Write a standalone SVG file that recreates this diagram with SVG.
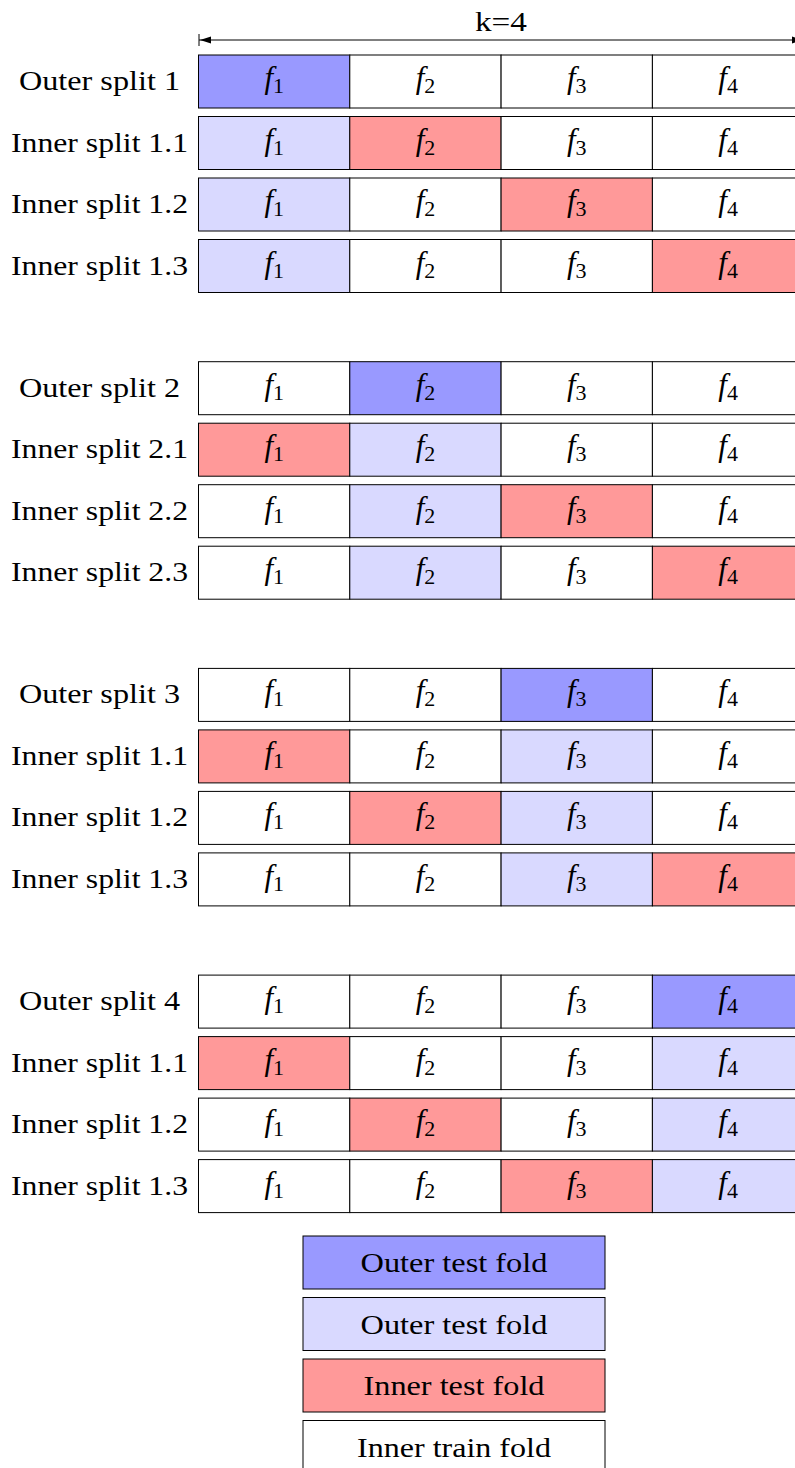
<svg xmlns="http://www.w3.org/2000/svg" width="795" height="1468" viewBox="0 0 795 1468" font-family="'Liberation Serif', 'DejaVu Serif', serif">
  <defs>
    <style>
      text { font-family: "Liberation Serif", "DejaVu Serif", serif; fill: #000; }
      .lbl { font-size: 28px; text-anchor: middle; }
      .f { font-size: 31px; text-anchor: middle; }
      .it { font-style: italic; }
      .sub { font-size: 22px; font-style: normal; }
      .cell { stroke: #000; stroke-width: 1; }
      .w { fill: #ffffff; }
      .ot { fill: #9999ff; }
      .lb { fill: #d9d9ff; }
      .it-red { fill: #ff9999; }
    </style>
    <!-- arrowhead with a stop bar, used at both ends of the k=4 span -->
    <marker id="barArrow" markerUnits="userSpaceOnUse" viewBox="0 -7 13 14" refX="12" refY="0" markerWidth="13" markerHeight="14" orient="auto-start-reverse">
      <path d="M0,-3.5 L11,0 L0,3.5 Z" fill="#000"/>
      <line x1="12" y1="-6" x2="12" y2="6" stroke="#000" stroke-width="1"/>
    </marker>
  </defs>

  <rect x="0" y="0" width="795" height="1468" fill="#ffffff"/>

  <!-- span arrow -->
  <g id="connectors">
    <line x1="199" y1="40" x2="804" y2="40" stroke="#000" stroke-width="1" marker-start="url(#barArrow)" marker-end="url(#barArrow)"/>
  </g>
  <g id="k-label">
    <text class="lbl" x="501" y="31" textLength="52" lengthAdjust="spacingAndGlyphs">k=4</text>
  </g>

  <!-- ===== Split group 1 ===== -->
  <g id="outer-split-1" transform="translate(0,55)">
    <text class="lbl" x="99.5" y="35" textLength="161" lengthAdjust="spacingAndGlyphs">Outer split 1</text>
    <rect class="cell ot" x="198.5" y="0" width="151.3" height="53"/>
    <rect class="cell w" x="349.8" y="0" width="151.3" height="53"/>
    <rect class="cell w" x="501.1" y="0" width="151.3" height="53"/>
    <rect class="cell w" x="652.4" y="0" width="151.3" height="53"/>
    <text class="f" x="274.2" y="33"><tspan class="it">f</tspan><tspan class="sub" dy="5">1</tspan></text>
    <text class="f" x="425.5" y="33"><tspan class="it">f</tspan><tspan class="sub" dy="5">2</tspan></text>
    <text class="f" x="576.8" y="33"><tspan class="it">f</tspan><tspan class="sub" dy="5">3</tspan></text>
    <text class="f" x="728.1" y="33"><tspan class="it">f</tspan><tspan class="sub" dy="5">4</tspan></text>
  </g>
  <g id="inner-split-1-1" transform="translate(0,116.5)">
    <text class="lbl" x="99.5" y="35" textLength="177" lengthAdjust="spacingAndGlyphs">Inner split 1.1</text>
    <rect class="cell lb" x="198.5" y="0" width="151.3" height="53"/>
    <rect class="cell it-red" x="349.8" y="0" width="151.3" height="53"/>
    <rect class="cell w" x="501.1" y="0" width="151.3" height="53"/>
    <rect class="cell w" x="652.4" y="0" width="151.3" height="53"/>
    <text class="f" x="274.2" y="33"><tspan class="it">f</tspan><tspan class="sub" dy="5">1</tspan></text>
    <text class="f" x="425.5" y="33"><tspan class="it">f</tspan><tspan class="sub" dy="5">2</tspan></text>
    <text class="f" x="576.8" y="33"><tspan class="it">f</tspan><tspan class="sub" dy="5">3</tspan></text>
    <text class="f" x="728.1" y="33"><tspan class="it">f</tspan><tspan class="sub" dy="5">4</tspan></text>
  </g>
  <g id="inner-split-1-2" transform="translate(0,178)">
    <text class="lbl" x="99.5" y="35" textLength="177" lengthAdjust="spacingAndGlyphs">Inner split 1.2</text>
    <rect class="cell lb" x="198.5" y="0" width="151.3" height="53"/>
    <rect class="cell w" x="349.8" y="0" width="151.3" height="53"/>
    <rect class="cell it-red" x="501.1" y="0" width="151.3" height="53"/>
    <rect class="cell w" x="652.4" y="0" width="151.3" height="53"/>
    <text class="f" x="274.2" y="33"><tspan class="it">f</tspan><tspan class="sub" dy="5">1</tspan></text>
    <text class="f" x="425.5" y="33"><tspan class="it">f</tspan><tspan class="sub" dy="5">2</tspan></text>
    <text class="f" x="576.8" y="33"><tspan class="it">f</tspan><tspan class="sub" dy="5">3</tspan></text>
    <text class="f" x="728.1" y="33"><tspan class="it">f</tspan><tspan class="sub" dy="5">4</tspan></text>
  </g>
  <g id="inner-split-1-3" transform="translate(0,239.5)">
    <text class="lbl" x="99.5" y="35" textLength="177" lengthAdjust="spacingAndGlyphs">Inner split 1.3</text>
    <rect class="cell lb" x="198.5" y="0" width="151.3" height="53"/>
    <rect class="cell w" x="349.8" y="0" width="151.3" height="53"/>
    <rect class="cell w" x="501.1" y="0" width="151.3" height="53"/>
    <rect class="cell it-red" x="652.4" y="0" width="151.3" height="53"/>
    <text class="f" x="274.2" y="33"><tspan class="it">f</tspan><tspan class="sub" dy="5">1</tspan></text>
    <text class="f" x="425.5" y="33"><tspan class="it">f</tspan><tspan class="sub" dy="5">2</tspan></text>
    <text class="f" x="576.8" y="33"><tspan class="it">f</tspan><tspan class="sub" dy="5">3</tspan></text>
    <text class="f" x="728.1" y="33"><tspan class="it">f</tspan><tspan class="sub" dy="5">4</tspan></text>
  </g>

  <!-- ===== Split group 2 ===== -->
  <g id="outer-split-2" transform="translate(0,361.7)">
    <text class="lbl" x="99.5" y="35" textLength="161" lengthAdjust="spacingAndGlyphs">Outer split 2</text>
    <rect class="cell w" x="198.5" y="0" width="151.3" height="53"/>
    <rect class="cell ot" x="349.8" y="0" width="151.3" height="53"/>
    <rect class="cell w" x="501.1" y="0" width="151.3" height="53"/>
    <rect class="cell w" x="652.4" y="0" width="151.3" height="53"/>
    <text class="f" x="274.2" y="33"><tspan class="it">f</tspan><tspan class="sub" dy="5">1</tspan></text>
    <text class="f" x="425.5" y="33"><tspan class="it">f</tspan><tspan class="sub" dy="5">2</tspan></text>
    <text class="f" x="576.8" y="33"><tspan class="it">f</tspan><tspan class="sub" dy="5">3</tspan></text>
    <text class="f" x="728.1" y="33"><tspan class="it">f</tspan><tspan class="sub" dy="5">4</tspan></text>
  </g>
  <g id="inner-split-2-1" transform="translate(0,423.2)">
    <text class="lbl" x="99.5" y="35" textLength="177" lengthAdjust="spacingAndGlyphs">Inner split 2.1</text>
    <rect class="cell it-red" x="198.5" y="0" width="151.3" height="53"/>
    <rect class="cell lb" x="349.8" y="0" width="151.3" height="53"/>
    <rect class="cell w" x="501.1" y="0" width="151.3" height="53"/>
    <rect class="cell w" x="652.4" y="0" width="151.3" height="53"/>
    <text class="f" x="274.2" y="33"><tspan class="it">f</tspan><tspan class="sub" dy="5">1</tspan></text>
    <text class="f" x="425.5" y="33"><tspan class="it">f</tspan><tspan class="sub" dy="5">2</tspan></text>
    <text class="f" x="576.8" y="33"><tspan class="it">f</tspan><tspan class="sub" dy="5">3</tspan></text>
    <text class="f" x="728.1" y="33"><tspan class="it">f</tspan><tspan class="sub" dy="5">4</tspan></text>
  </g>
  <g id="inner-split-2-2" transform="translate(0,484.7)">
    <text class="lbl" x="99.5" y="35" textLength="177" lengthAdjust="spacingAndGlyphs">Inner split 2.2</text>
    <rect class="cell w" x="198.5" y="0" width="151.3" height="53"/>
    <rect class="cell lb" x="349.8" y="0" width="151.3" height="53"/>
    <rect class="cell it-red" x="501.1" y="0" width="151.3" height="53"/>
    <rect class="cell w" x="652.4" y="0" width="151.3" height="53"/>
    <text class="f" x="274.2" y="33"><tspan class="it">f</tspan><tspan class="sub" dy="5">1</tspan></text>
    <text class="f" x="425.5" y="33"><tspan class="it">f</tspan><tspan class="sub" dy="5">2</tspan></text>
    <text class="f" x="576.8" y="33"><tspan class="it">f</tspan><tspan class="sub" dy="5">3</tspan></text>
    <text class="f" x="728.1" y="33"><tspan class="it">f</tspan><tspan class="sub" dy="5">4</tspan></text>
  </g>
  <g id="inner-split-2-3" transform="translate(0,546.2)">
    <text class="lbl" x="99.5" y="35" textLength="177" lengthAdjust="spacingAndGlyphs">Inner split 2.3</text>
    <rect class="cell w" x="198.5" y="0" width="151.3" height="53"/>
    <rect class="cell lb" x="349.8" y="0" width="151.3" height="53"/>
    <rect class="cell w" x="501.1" y="0" width="151.3" height="53"/>
    <rect class="cell it-red" x="652.4" y="0" width="151.3" height="53"/>
    <text class="f" x="274.2" y="33"><tspan class="it">f</tspan><tspan class="sub" dy="5">1</tspan></text>
    <text class="f" x="425.5" y="33"><tspan class="it">f</tspan><tspan class="sub" dy="5">2</tspan></text>
    <text class="f" x="576.8" y="33"><tspan class="it">f</tspan><tspan class="sub" dy="5">3</tspan></text>
    <text class="f" x="728.1" y="33"><tspan class="it">f</tspan><tspan class="sub" dy="5">4</tspan></text>
  </g>

  <!-- ===== Split group 3 ===== -->
  <g id="outer-split-3" transform="translate(0,668.4)">
    <text class="lbl" x="99.5" y="35" textLength="161" lengthAdjust="spacingAndGlyphs">Outer split 3</text>
    <rect class="cell w" x="198.5" y="0" width="151.3" height="53"/>
    <rect class="cell w" x="349.8" y="0" width="151.3" height="53"/>
    <rect class="cell ot" x="501.1" y="0" width="151.3" height="53"/>
    <rect class="cell w" x="652.4" y="0" width="151.3" height="53"/>
    <text class="f" x="274.2" y="33"><tspan class="it">f</tspan><tspan class="sub" dy="5">1</tspan></text>
    <text class="f" x="425.5" y="33"><tspan class="it">f</tspan><tspan class="sub" dy="5">2</tspan></text>
    <text class="f" x="576.8" y="33"><tspan class="it">f</tspan><tspan class="sub" dy="5">3</tspan></text>
    <text class="f" x="728.1" y="33"><tspan class="it">f</tspan><tspan class="sub" dy="5">4</tspan></text>
  </g>
  <g id="inner-split-3-1" transform="translate(0,729.9)">
    <text class="lbl" x="99.5" y="35" textLength="177" lengthAdjust="spacingAndGlyphs">Inner split 1.1</text>
    <rect class="cell it-red" x="198.5" y="0" width="151.3" height="53"/>
    <rect class="cell w" x="349.8" y="0" width="151.3" height="53"/>
    <rect class="cell lb" x="501.1" y="0" width="151.3" height="53"/>
    <rect class="cell w" x="652.4" y="0" width="151.3" height="53"/>
    <text class="f" x="274.2" y="33"><tspan class="it">f</tspan><tspan class="sub" dy="5">1</tspan></text>
    <text class="f" x="425.5" y="33"><tspan class="it">f</tspan><tspan class="sub" dy="5">2</tspan></text>
    <text class="f" x="576.8" y="33"><tspan class="it">f</tspan><tspan class="sub" dy="5">3</tspan></text>
    <text class="f" x="728.1" y="33"><tspan class="it">f</tspan><tspan class="sub" dy="5">4</tspan></text>
  </g>
  <g id="inner-split-3-2" transform="translate(0,791.4)">
    <text class="lbl" x="99.5" y="35" textLength="177" lengthAdjust="spacingAndGlyphs">Inner split 1.2</text>
    <rect class="cell w" x="198.5" y="0" width="151.3" height="53"/>
    <rect class="cell it-red" x="349.8" y="0" width="151.3" height="53"/>
    <rect class="cell lb" x="501.1" y="0" width="151.3" height="53"/>
    <rect class="cell w" x="652.4" y="0" width="151.3" height="53"/>
    <text class="f" x="274.2" y="33"><tspan class="it">f</tspan><tspan class="sub" dy="5">1</tspan></text>
    <text class="f" x="425.5" y="33"><tspan class="it">f</tspan><tspan class="sub" dy="5">2</tspan></text>
    <text class="f" x="576.8" y="33"><tspan class="it">f</tspan><tspan class="sub" dy="5">3</tspan></text>
    <text class="f" x="728.1" y="33"><tspan class="it">f</tspan><tspan class="sub" dy="5">4</tspan></text>
  </g>
  <g id="inner-split-3-3" transform="translate(0,852.9)">
    <text class="lbl" x="99.5" y="35" textLength="177" lengthAdjust="spacingAndGlyphs">Inner split 1.3</text>
    <rect class="cell w" x="198.5" y="0" width="151.3" height="53"/>
    <rect class="cell w" x="349.8" y="0" width="151.3" height="53"/>
    <rect class="cell lb" x="501.1" y="0" width="151.3" height="53"/>
    <rect class="cell it-red" x="652.4" y="0" width="151.3" height="53"/>
    <text class="f" x="274.2" y="33"><tspan class="it">f</tspan><tspan class="sub" dy="5">1</tspan></text>
    <text class="f" x="425.5" y="33"><tspan class="it">f</tspan><tspan class="sub" dy="5">2</tspan></text>
    <text class="f" x="576.8" y="33"><tspan class="it">f</tspan><tspan class="sub" dy="5">3</tspan></text>
    <text class="f" x="728.1" y="33"><tspan class="it">f</tspan><tspan class="sub" dy="5">4</tspan></text>
  </g>

  <!-- ===== Split group 4 ===== -->
  <g id="outer-split-4" transform="translate(0,975.1)">
    <text class="lbl" x="99.5" y="35" textLength="161" lengthAdjust="spacingAndGlyphs">Outer split 4</text>
    <rect class="cell w" x="198.5" y="0" width="151.3" height="53"/>
    <rect class="cell w" x="349.8" y="0" width="151.3" height="53"/>
    <rect class="cell w" x="501.1" y="0" width="151.3" height="53"/>
    <rect class="cell ot" x="652.4" y="0" width="151.3" height="53"/>
    <text class="f" x="274.2" y="33"><tspan class="it">f</tspan><tspan class="sub" dy="5">1</tspan></text>
    <text class="f" x="425.5" y="33"><tspan class="it">f</tspan><tspan class="sub" dy="5">2</tspan></text>
    <text class="f" x="576.8" y="33"><tspan class="it">f</tspan><tspan class="sub" dy="5">3</tspan></text>
    <text class="f" x="728.1" y="33"><tspan class="it">f</tspan><tspan class="sub" dy="5">4</tspan></text>
  </g>
  <g id="inner-split-4-1" transform="translate(0,1036.6)">
    <text class="lbl" x="99.5" y="35" textLength="177" lengthAdjust="spacingAndGlyphs">Inner split 1.1</text>
    <rect class="cell it-red" x="198.5" y="0" width="151.3" height="53"/>
    <rect class="cell w" x="349.8" y="0" width="151.3" height="53"/>
    <rect class="cell w" x="501.1" y="0" width="151.3" height="53"/>
    <rect class="cell lb" x="652.4" y="0" width="151.3" height="53"/>
    <text class="f" x="274.2" y="33"><tspan class="it">f</tspan><tspan class="sub" dy="5">1</tspan></text>
    <text class="f" x="425.5" y="33"><tspan class="it">f</tspan><tspan class="sub" dy="5">2</tspan></text>
    <text class="f" x="576.8" y="33"><tspan class="it">f</tspan><tspan class="sub" dy="5">3</tspan></text>
    <text class="f" x="728.1" y="33"><tspan class="it">f</tspan><tspan class="sub" dy="5">4</tspan></text>
  </g>
  <g id="inner-split-4-2" transform="translate(0,1098.1)">
    <text class="lbl" x="99.5" y="35" textLength="177" lengthAdjust="spacingAndGlyphs">Inner split 1.2</text>
    <rect class="cell w" x="198.5" y="0" width="151.3" height="53"/>
    <rect class="cell it-red" x="349.8" y="0" width="151.3" height="53"/>
    <rect class="cell w" x="501.1" y="0" width="151.3" height="53"/>
    <rect class="cell lb" x="652.4" y="0" width="151.3" height="53"/>
    <text class="f" x="274.2" y="33"><tspan class="it">f</tspan><tspan class="sub" dy="5">1</tspan></text>
    <text class="f" x="425.5" y="33"><tspan class="it">f</tspan><tspan class="sub" dy="5">2</tspan></text>
    <text class="f" x="576.8" y="33"><tspan class="it">f</tspan><tspan class="sub" dy="5">3</tspan></text>
    <text class="f" x="728.1" y="33"><tspan class="it">f</tspan><tspan class="sub" dy="5">4</tspan></text>
  </g>
  <g id="inner-split-4-3" transform="translate(0,1159.6)">
    <text class="lbl" x="99.5" y="35" textLength="177" lengthAdjust="spacingAndGlyphs">Inner split 1.3</text>
    <rect class="cell w" x="198.5" y="0" width="151.3" height="53"/>
    <rect class="cell w" x="349.8" y="0" width="151.3" height="53"/>
    <rect class="cell it-red" x="501.1" y="0" width="151.3" height="53"/>
    <rect class="cell lb" x="652.4" y="0" width="151.3" height="53"/>
    <text class="f" x="274.2" y="33"><tspan class="it">f</tspan><tspan class="sub" dy="5">1</tspan></text>
    <text class="f" x="425.5" y="33"><tspan class="it">f</tspan><tspan class="sub" dy="5">2</tspan></text>
    <text class="f" x="576.8" y="33"><tspan class="it">f</tspan><tspan class="sub" dy="5">3</tspan></text>
    <text class="f" x="728.1" y="33"><tspan class="it">f</tspan><tspan class="sub" dy="5">4</tspan></text>
  </g>

  <!-- ===== Legend ===== -->
  <g id="legend-outer-test" transform="translate(0,1236)">
    <rect class="cell ot" x="303" y="0" width="302" height="53"/>
    <text class="lbl" x="454" y="36" textLength="187" lengthAdjust="spacingAndGlyphs">Outer test fold</text>
  </g>
  <g id="legend-outer-test-light" transform="translate(0,1297.5)">
    <rect class="cell lb" x="303" y="0" width="302" height="53"/>
    <text class="lbl" x="454" y="36" textLength="187" lengthAdjust="spacingAndGlyphs">Outer test fold</text>
  </g>
  <g id="legend-inner-test" transform="translate(0,1359)">
    <rect class="cell it-red" x="303" y="0" width="302" height="53"/>
    <text class="lbl" x="454" y="36" textLength="181" lengthAdjust="spacingAndGlyphs">Inner test fold</text>
  </g>
  <g id="legend-inner-train" transform="translate(0,1420.5)">
    <rect class="cell w" x="303" y="0" width="302" height="53"/>
    <text class="lbl" x="454" y="36" textLength="194" lengthAdjust="spacingAndGlyphs">Inner train fold</text>
  </g>
</svg>
